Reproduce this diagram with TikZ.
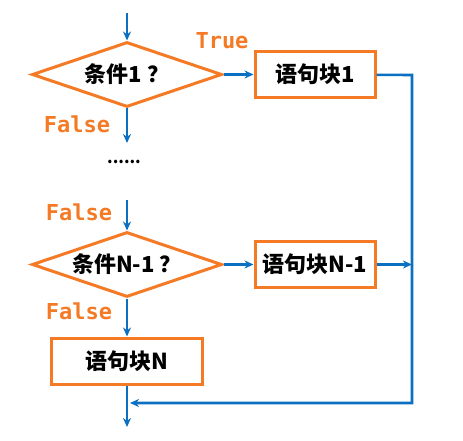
\documentclass[tikz,border=0pt]{standalone}
\usepackage{fontspec}
\setmonofont{DejaVu Sans Mono}
\newfontfamily\cjk{Noto Sans CJK SC}
\usetikzlibrary{positioning, shapes.geometric, arrows.meta}
\definecolor{myorange}{HTML}{F47A25}
\definecolor{myblue}{HTML}{0C70C2}

\begin{document}
\begin{tikzpicture}[x=1pt, y=-1pt,
  cond/.style = {draw=myorange, line width=3pt, diamond, aspect=2.9, minimum width=190pt, minimum height=65pt, inner sep=0pt, font=\cjk\bfseries\fontsize{22}{24}\selectfont},
  block/.style = {draw=myorange, line width=3pt, fill=white, minimum height=46pt, inner sep=0pt, font=\cjk\bfseries\fontsize{22}{24}\selectfont},
  tf/.style = {text=myorange, font=\ttfamily\bfseries\fontsize{22}{24}\selectfont},
  flow/.style = {draw=myblue, line width=2.6pt, -{Stealth[length=9pt,width=8pt]}}]
\useasboundingbox (0,0) rectangle (463,441);

\node[cond] (c1) at (127,74.5) {条件1 ？};
\node[block, minimum width=120pt, right=30pt of c1] (b1) {语句块1};
\node[font=\cjk\bfseries\fontsize{16}{18}\selectfont] (dots) at (124,162) {......};
\node[cond] (c2) at (127,264.5) {条件N-1 ？};
\node[block, minimum width=120pt, right=30pt of c2] (b2) {语句块N-1};
\node[block, minimum width=151pt, below=38pt of c2] (bN) {语句块N};

\node[tf] (yes1) at (222,41) {True};
\node[tf] (no1) at (77,124) {False};
\node[tf] (no2) at (79,212) {False};
\node[tf] (no3) at (79,311) {False};

\coordinate (top) at (127,13);
\coordinate (f1) at (127,143);
\coordinate (s2) at (127,200);
\coordinate (rt) at (412,75);
\coordinate (rb) at (412,403);
\coordinate (mg) at (130,403);
\coordinate (out) at (127,427);

\draw[flow] (top) -- (c1);
\draw[flow] (c1) -- (b1);
\draw[flow] (c1) -- (f1);
\draw[flow] (s2) -- (c2);
\draw[flow] (c2) -- (b2);
\draw[flow] (c2) -- (bN);
\draw[flow] (b2) -- (b2.east -| rt);
\draw[flow] (b1) -- (rt) -- (rb) -- (mg);
\draw[flow] (bN) -- (out);

\end{tikzpicture}
\end{document}
